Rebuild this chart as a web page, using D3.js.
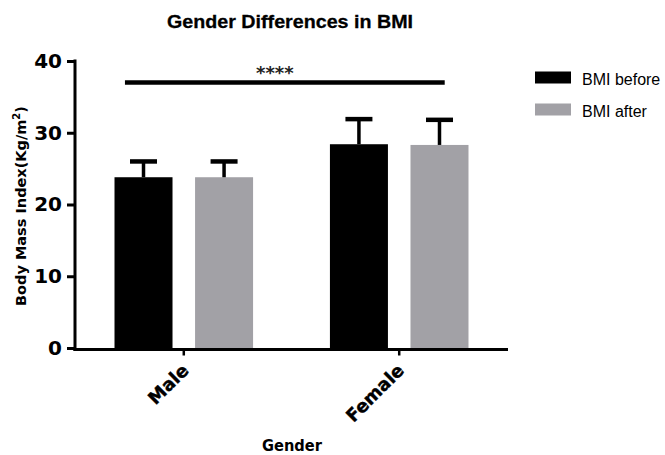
<!DOCTYPE html>
<html>
<head>
<meta charset="utf-8">
<script src="https://cdn.jsdelivr.net/npm/d3@7"></script>
<style>
  html, body { margin: 0; padding: 0; background: #fff; }
  svg { display: block; }
</style>
</head>
<body>
<svg id="chart" width="665" height="455"></svg>
<script>
// Gender groups and the two measurement series
const genders = ["Male", "Female"];
const seriesNames = ["BMI before", "BMI after"];
const bmiBefore = [23.8, 28.4];
const bmiAfter = [23.8, 28.3];
const sdBefore = [2.2, 3.5];
const sdAfter = [2.2, 3.5];
const yTicks = [0, 10, 20, 30, 40];
const seriesColors = ["#000000", "#a2a1a6"];
const significance = { y: 37, label: "****" };

const svg = d3.select("#chart");

const x0 = d3.scaleBand().domain(genders).range([75, 508]).paddingInner(0).paddingOuter(0.005);
const x1 = d3.scaleBand().domain(seriesNames).range([0, x0.bandwidth()])
  .paddingInner(0.28).paddingOuter(0.477);
const y = d3.scaleLinear().domain([0, 40]).range([348, 61]);
const color = d3.scaleOrdinal().domain(seriesNames).range(seriesColors);

const rows = genders.map((g, i) => ({
  gender: g,
  values: [
    { series: seriesNames[0], value: bmiBefore[i], sd: sdBefore[i] },
    { series: seriesNames[1], value: bmiAfter[i], sd: sdAfter[i] }
  ]
}));

// Bars
const groups = svg.append("g").selectAll("g").data(rows).join("g")
  .attr("transform", d => `translate(${x0(d.gender)},0)`);

groups.selectAll("rect").data(d => d.values).join("rect")
  .attr("x", d => x1(d.series))
  .attr("y", d => y(d.value))
  .attr("width", x1.bandwidth())
  .attr("height", d => y(0) - y(d.value))
  .attr("fill", d => color(d.series));

// Upper error bars (mean + SD)
const capW = 27;
groups.selectAll("line.stem").data(d => d.values).join("line")
  .attr("class", "stem")
  .attr("x1", d => x1(d.series) + x1.bandwidth() / 2)
  .attr("x2", d => x1(d.series) + x1.bandwidth() / 2)
  .attr("y1", d => y(d.value))
  .attr("y2", d => y(d.value + d.sd))
  .attr("stroke", "#000").attr("stroke-width", 3.5);

groups.selectAll("line.cap").data(d => d.values).join("line")
  .attr("class", "cap")
  .attr("x1", d => x1(d.series) + x1.bandwidth() / 2 - capW / 2)
  .attr("x2", d => x1(d.series) + x1.bandwidth() / 2 + capW / 2)
  .attr("y1", d => y(d.value + d.sd))
  .attr("y2", d => y(d.value + d.sd))
  .attr("stroke", "#000").attr("stroke-width", 4.5);

// Y axis
const yAxis = svg.append("g")
  .attr("transform", "translate(75,0)")
  .call(d3.axisLeft(y).tickValues(yTicks).tickSize(8).tickSizeOuter(0).tickPadding(5));
yAxis.select(".domain").attr("stroke", "#000").attr("stroke-width", 3)
  .attr("d", `M0,${y(0) + 3}V${y(40) - 1.5}`);
yAxis.selectAll(".tick line").attr("stroke", "#000").attr("stroke-width", 3);
yAxis.selectAll(".tick text")
  .attr("font-family", "DejaVu Sans, sans-serif")
  .attr("font-weight", "bold")
  .attr("font-size", 20)
  .attr("fill", "#000");

// X axis
const xAxis = svg.append("g")
  .attr("transform", `translate(0,${y(0) + 1.5})`)
  .call(d3.axisBottom(x0).tickSize(6).tickSizeOuter(0));
xAxis.select(".domain").attr("stroke", "#000").attr("stroke-width", 3)
  .attr("d", `M${73.5},0H508`);
xAxis.selectAll(".tick line").attr("stroke", "#000").attr("stroke-width", 2.5);
xAxis.selectAll(".tick text")
  .attr("font-family", "DejaVu Sans, sans-serif")
  .attr("font-weight", "bold")
  .attr("font-size", 18)
  .attr("fill", "#000")
  .attr("stroke", "#000")
  .attr("stroke-width", 0.4)
  .attr("text-anchor", "end")
  .attr("dy", null)
  .attr("y", null)
  .attr("transform", "translate(6,22) rotate(-45)");

// Significance bracket spanning both groups
const sigX1 = x0("Male") + x1("BMI before") + x1.bandwidth() * 0.18;
const sigX2 = x0("Female") + x1("BMI after") + x1.bandwidth() * 0.59;
svg.append("line")
  .attr("x1", sigX1).attr("x2", sigX2)
  .attr("y1", y(significance.y)).attr("y2", y(significance.y))
  .attr("stroke", "#000").attr("stroke-width", 4.5);
svg.append("text")
  .attr("x", (sigX1 + sigX2) / 2 - 10)
  .attr("y", y(significance.y) - 4)
  .attr("text-anchor", "middle")
  .attr("font-family", "DejaVu Sans, sans-serif")
  .attr("font-weight", "bold")
  .attr("font-size", 18)
  .attr("fill", "#222")
  .text(significance.label);

// Title
svg.append("text")
  .attr("x", 290).attr("y", 28)
  .attr("text-anchor", "middle")
  .attr("font-family", "Liberation Sans, Arial, sans-serif")
  .attr("font-weight", "bold")
  .attr("font-size", 19)
  .attr("stroke", "#000")
  .attr("stroke-width", 0.3)
  .attr("textLength", 246)
  .attr("lengthAdjust", "spacingAndGlyphs")
  .text("Gender Differences in BMI");

// Axis titles
svg.append("text")
  .attr("x", 292).attr("y", 451)
  .attr("text-anchor", "middle")
  .attr("font-family", "DejaVu Sans, sans-serif")
  .attr("font-weight", "bold")
  .attr("font-size", 16)
  .attr("textLength", 60)
  .attr("lengthAdjust", "spacingAndGlyphs")
  .text("Gender");

const yTitle = svg.append("text")
  .attr("transform", "translate(26,206) rotate(-90)")
  .attr("text-anchor", "middle")
  .attr("font-family", "DejaVu Sans, sans-serif")
  .attr("font-weight", "bold")
  .attr("font-size", 14.5);
yTitle.append("tspan").text("Body Mass Index(Kg/m");
yTitle.append("tspan").attr("font-size", 10).attr("dy", -6).text("2");
yTitle.append("tspan").attr("dy", 6).text(")");

// Legend
const legend = svg.append("g").selectAll("g").data(seriesNames).join("g")
  .attr("transform", (d, i) => `translate(535,${71.5 + i * 32})`);
legend.append("rect")
  .attr("width", 36).attr("height", 12)
  .attr("fill", d => color(d));
legend.append("text")
  .attr("x", 47).attr("y", 13)
  .attr("font-family", "Liberation Sans Narrow, Liberation Sans, Arial, sans-serif")
  .attr("font-size", 16)
  .attr("fill", "#000")
  .text(d => d);
</script>
</body>
</html>
